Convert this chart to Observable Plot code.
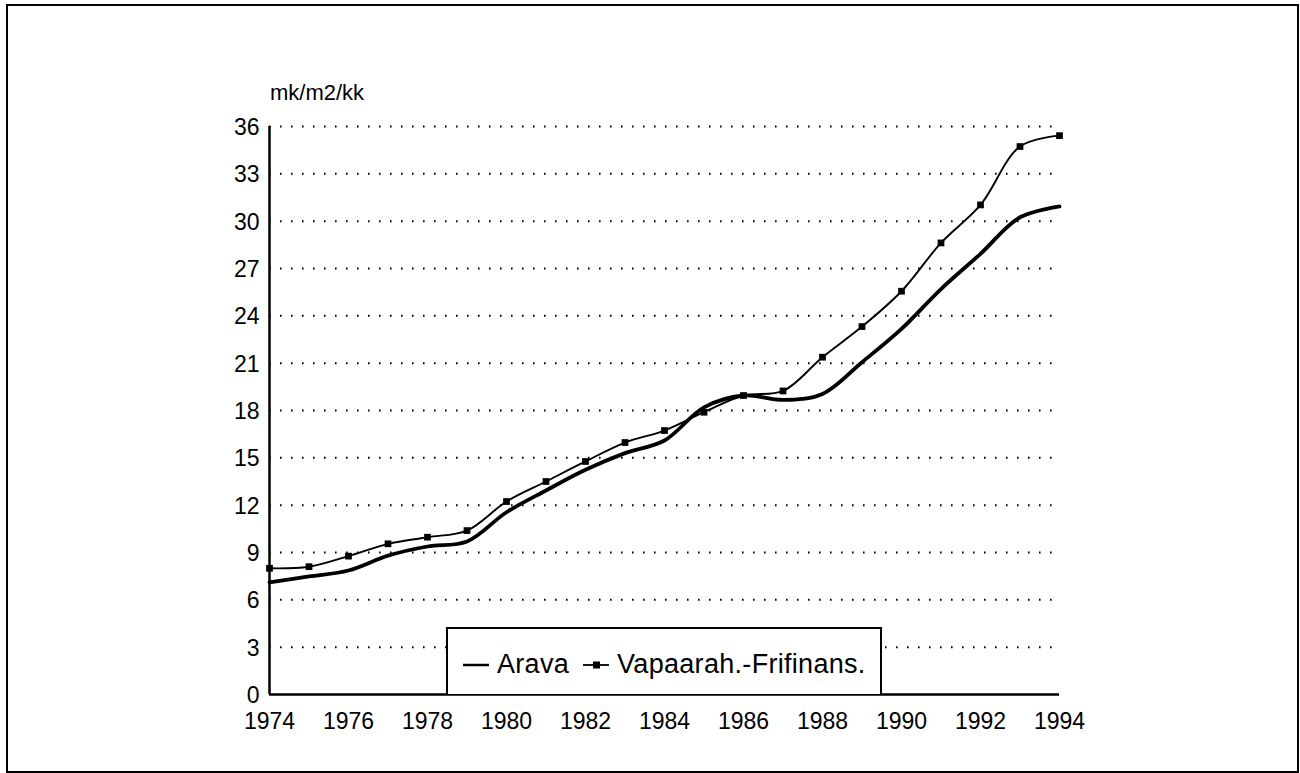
<!DOCTYPE html>
<html><head><meta charset="utf-8">
<script src="https://cdn.jsdelivr.net/npm/d3@7"></script>
<script src="https://cdn.jsdelivr.net/npm/@observablehq/plot@0.6"></script>
<style>
body{margin:0;background:#fff;}
#wrap{position:relative;width:1300px;height:773px;font-family:"Liberation Sans",Arial,sans-serif;color:#000;}
#frame{position:absolute;left:6px;top:4px;width:1289px;height:765px;border:2px solid #000;pointer-events:none;}
#unit{position:absolute;left:270px;top:80px;font-size:22px;}
#legend{position:absolute;left:446px;top:627px;width:436px;height:67px;border:2px solid #000;border-bottom:none;background:#fff;display:flex;align-items:center;box-sizing:border-box;padding-left:15px;padding-top:6px;font-size:27px;letter-spacing:0.3px;}
#legend svg{flex:none;}
svg.plot{position:absolute;left:0;top:0;}
</style></head>
<body>
<div id="wrap">
  <div id="unit">mk/m2/kk</div>
</div>
<script>
const years = [1974,1975,1976,1977,1978,1979,1980,1981,1982,1983,1984,1985,1986,1987,1988,1989,1990,1991,1992,1993,1994];
const arava = [7.1,7.48,7.86,8.8,9.38,9.7,11.55,12.93,14.24,15.3,16.1,18.2,18.95,18.67,19.05,21.06,23.17,25.7,27.93,30.25,30.93];
const vapaa = [8.0,8.1,8.77,9.55,9.97,10.39,12.23,13.5,14.77,15.97,16.73,17.89,18.95,19.24,21.38,23.32,25.56,28.62,31.03,34.73,35.42];
const seriesNames = ["Arava","Vapaarah.-Frifinans."];
const unitLabel = "mk/m2/kk";
const yTicks = [0,3,6,9,12,15,18,21,24,27,30,33,36];
const xTicks = [1974,1976,1978,1980,1982,1984,1986,1988,1990,1992,1994];

const aData = years.map((y,i)=>({year:y, value:arava[i]}));
const vData = years.map((y,i)=>({year:y, value:vapaa[i]}));

const chart = Plot.plot({
  width:1300, height:773,
  marginLeft:269, marginRight:241, marginTop:126, marginBottom:79,
  style:{fontFamily:'"Liberation Sans",Arial,sans-serif', fontSize:"23px", background:"transparent", color:"#000"},
  x:{domain:[1974,1994], ticks:xTicks, tickFormat:d=>String(d), label:null},
  y:{domain:[0,36], ticks:yTicks, label:null},
  marks:[
    Plot.gridY(yTicks.filter(d=>d>0), {stroke:"#000", strokeOpacity:1, strokeWidth:2, strokeDasharray:"1.6,9.4"}),
    Plot.axisX({ticks:xTicks, tickSize:0, tickPadding:18, tickFormat:d=>String(d), fontSize:23}),
    Plot.axisY({ticks:yTicks, tickSize:0, tickPadding:10, fontSize:23, dy:1}),
    Plot.line(aData, {x:"year", y:"value", curve:"catmull-rom", stroke:"#000", strokeWidth:3.8}),
    Plot.line(vData, {x:"year", y:"value", curve:"catmull-rom", stroke:"#000", strokeWidth:1.9}),
    Plot.dot(vData, {x:"year", y:"value", symbol:"square", r:3.8, fill:"#000", stroke:"none"}),
    Plot.ruleX([1974], {stroke:"#000", strokeWidth:2.5}),
    Plot.ruleY([0], {stroke:"#000", strokeWidth:2.5})
  ]
});
chart.setAttribute("class", (chart.getAttribute("class")||"") + " plot");
const wrap = document.getElementById("wrap");
wrap.insertBefore(chart, wrap.firstChild);

const legend = document.createElement("div");
legend.id = "legend";
legend.innerHTML =
  `<svg width="26" height="12" style="margin-right:8px"><line x1="0" y1="6" x2="26" y2="6" stroke="#000" stroke-width="2.5"/></svg><span style="margin-right:14px">${seriesNames[0]}</span>` +
  `<svg width="26" height="12" style="margin-right:8px"><line x1="0" y1="6" x2="26" y2="6" stroke="#000" stroke-width="1.8"/><rect x="10" y="2.5" width="7" height="7" fill="#000"/></svg><span>${seriesNames[1]}</span>`;
wrap.appendChild(legend);
const frame = document.createElement("div");
frame.id = "frame";
wrap.appendChild(frame);
document.getElementById("unit").textContent = unitLabel;
</script>
</body></html>
